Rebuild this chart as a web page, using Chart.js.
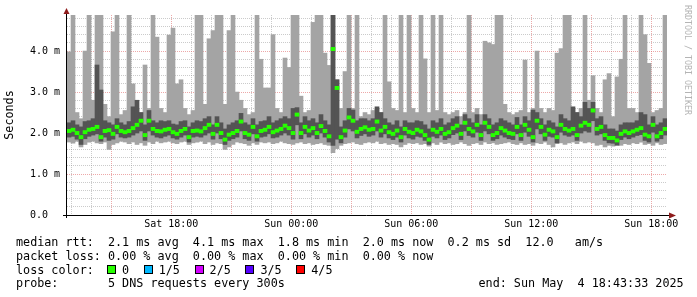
<!DOCTYPE html>
<html>
<head>
<meta charset="utf-8">
<title>SmokePing DNS latency</title>
<script src="https://cdn.jsdelivr.net/npm/chart.js@4.4.1/dist/chart.umd.min.js"></script>
<style>
  html, body { margin: 0; padding: 0; background: #fff; }
  #graph { display: block; }
</style>
</head>
<body>
<canvas id="graph" width="697" height="297"></canvas>
<script>
// time axis: hours, graph starts Sat 12:47 and spans 30 hours, one bar = 12 min
const START_HOUR = 12.785;
const SPAN_HOURS = 30;
const STEP_HOURS = 0.2;

const labelHours = [18, 24, 30, 36, 42];
const timeLabels = ["Sat 18:00", "Sun 00:00", "Sun 06:00", "Sun 12:00", "Sun 18:00"];
const yTickLabels = ["0.0", "1.0 m", "2.0 m", "3.0 m", "4.0 m"];

// smoke: outer band = fastest/slowest ping, inner band = 2nd/4th ping (ms)
const lightHi = [
  3.98, 5, 2.5, 2.35, 4.0, 5, 2.8, 5, 5, 2.7, 2.4, 4.47, 5, 2.45, 2.55, 5, 3.2, 2.6, 2.5, 3.66, 2.6, 5, 4.34, 2.6, 2.5,
  4.39, 4.56, 3.2, 3.3, 2.6, 2.45, 2.55, 5, 5, 2.7, 4.3, 4.5, 5, 5, 2.7, 4.5, 5, 3.0, 2.8, 2.6, 2.45, 2.5, 5, 3.8, 3.1,
  3.1, 4.4, 2.6, 2.5, 3.83, 3.6, 5, 5, 2.9, 2.5, 2.55, 4.7, 5, 5, 3.95, 3.65, 5, 3.3, 2.6, 3.5, 5, 2.6, 5, 2.4, 2.5,
  2.45, 2.55, 2.6, 2.5, 5, 3.25, 2.6, 2.55, 5, 2.5, 5, 2.6, 2.5, 5, 3.81, 2.5, 5, 2.55, 5, 2.5, 2.45, 2.5, 2.55, 2.4, 2.5,
  5, 2.5, 2.6, 2.45, 4.24, 4.2, 4.16, 5, 5, 2.7, 2.5, 2.45, 2.5, 2.55, 3.78, 2.5, 2.6, 4.0, 2.6, 2.5, 2.6, 2.55, 3.95, 4.06, 5,
  5, 2.6, 2.5, 2.6, 5, 2.8, 3.4, 2.6, 2.5, 3.3, 3.45, 2.4, 3.37, 3.8, 5, 2.6, 2.6, 2.5, 5, 4.4, 3.7, 2.5, 2.55, 2.6, 5
];
const lightLo = [
  1.78, 1.75, 1.8, 1.66, 1.72, 1.78, 1.8, 1.76, 1.74, 1.78, 1.6, 1.72, 1.76, 1.8, 1.78, 1.74, 1.78, 1.72, 1.76, 1.7, 1.78, 1.74, 1.8, 1.76, 1.78,
  1.8, 1.76, 1.74, 1.78, 1.8, 1.72, 1.76, 1.78, 1.8, 1.74, 1.78, 1.72, 1.76, 1.74, 1.6, 1.66, 1.72, 1.78, 1.76, 1.74, 1.7, 1.76, 1.72, 1.78, 1.76,
  1.78, 1.74, 1.76, 1.8, 1.76, 1.74, 1.72, 1.76, 1.78, 1.74, 1.76, 1.72, 1.74, 1.76, 1.72, 1.7, 1.52, 1.62, 1.7, 1.74, 1.76, 1.78, 1.74, 1.72, 1.76,
  1.78, 1.76, 1.8, 1.74, 1.76, 1.72, 1.74, 1.72, 1.66, 1.72, 1.76, 1.74, 1.76, 1.72, 1.74, 1.68, 1.76, 1.72, 1.78, 1.74, 1.76, 1.72, 1.74, 1.78, 1.74,
  1.7, 1.74, 1.76, 1.72, 1.78, 1.74, 1.76, 1.72, 1.74, 1.76, 1.78, 1.74, 1.72, 1.76, 1.72, 1.74, 1.7, 1.76, 1.74, 1.78, 1.72, 1.66, 1.74, 1.76, 1.72,
  1.76, 1.78, 1.74, 1.8, 1.76, 1.78, 1.76, 1.7, 1.72, 1.66, 1.7, 1.68, 1.72, 1.7, 1.74, 1.72, 1.76, 1.74, 1.78, 1.72, 1.74, 1.7, 1.76, 1.72, 1.74
];
const darkHi = [
  2.25, 2.3, 2.2, 2.15, 2.28, 2.3, 2.35, 3.66, 3.05, 2.3, 2.25, 2.2, 2.35, 2.25, 2.2, 2.28, 2.64, 2.8, 2.5, 2.2, 2.55, 2.3, 2.25, 2.3, 2.28,
  2.3, 2.22, 2.2, 2.28, 2.3, 2.15, 2.25, 2.3, 2.28, 2.35, 2.4, 2.2, 2.4, 2.25, 2.1, 2.2, 2.25, 2.3, 2.48, 2.25, 2.2, 2.35, 2.2, 2.28, 2.3,
  2.4, 2.25, 2.3, 2.35, 2.4, 2.35, 2.6, 2.62, 2.25, 2.4, 2.3, 2.35, 2.25, 2.45, 2.3, 2.2, 5, 3.3, 2.15, 2.3, 2.6, 2.56, 2.3, 2.35, 2.35,
  2.3, 2.35, 2.64, 2.5, 2.35, 2.25, 2.2, 2.3, 2.15, 2.3, 2.25, 2.25, 2.3, 2.28, 2.2, 2.1, 2.3, 2.25, 2.35, 2.2, 2.25, 2.35, 2.4, 2.2, 2.45,
  2.35, 2.25, 2.45, 2.2, 2.45, 2.35, 2.2, 2.25, 2.35, 2.3, 2.25, 2.2, 2.38, 2.2, 2.4, 2.3, 2.56, 2.5, 2.35, 2.2, 2.3, 2.25, 2.15, 2.45, 2.35,
  2.3, 2.64, 2.5, 2.4, 2.75, 2.6, 2.75, 2.35, 2.4, 2.2, 2.1, 2.1, 2.05, 2.2, 2.25, 2.25, 2.25, 2.3, 2.5, 2.45, 2.2, 2.4, 2.2, 2.25, 2.35
];
const darkLo = [
  1.9, 1.92, 1.85, 1.72, 1.86, 1.92, 1.95, 1.98, 1.8, 1.9, 1.82, 1.85, 1.98, 1.9, 1.88, 1.9, 1.95, 2.0, 2.05, 1.82, 2.05, 1.95, 1.9, 1.88, 1.92,
  1.95, 1.88, 1.85, 1.9, 1.95, 1.78, 1.9, 1.92, 1.9, 1.95, 2.0, 1.85, 2.0, 1.86, 1.72, 1.82, 1.86, 1.9, 2.05, 1.86, 1.82, 1.98, 1.8, 1.9, 1.92,
  1.98, 1.88, 1.9, 1.95, 2.0, 1.95, 1.85, 2.2, 1.86, 1.98, 1.9, 1.95, 1.86, 2.0, 1.9, 1.78, 1.7, 1.85, 1.76, 1.9, 2.1, 2.05, 1.88, 1.94, 1.98,
  1.92, 1.95, 2.05, 1.9, 1.98, 1.88, 1.84, 1.9, 1.78, 1.95, 1.88, 1.85, 1.92, 1.9, 1.82, 1.72, 1.92, 1.88, 1.95, 1.84, 1.88, 1.96, 2.0, 1.84, 2.05,
  1.94, 1.9, 2.02, 1.82, 2.05, 1.98, 1.82, 1.86, 1.95, 1.9, 1.86, 1.84, 1.98, 1.82, 2.02, 1.92, 1.78, 2.1, 1.98, 1.82, 1.92, 1.9, 1.76, 2.02, 1.95,
  1.92, 1.95, 1.82, 2.0, 2.05, 2.02, 2.3, 1.95, 1.98, 1.82, 1.76, 1.75, 1.7, 1.84, 1.9, 1.86, 1.9, 1.94, 1.96, 1.82, 1.78, 2.02, 1.8, 1.86, 1.95
];
const median = [
  2.05, 2.08, 2.0, 1.9, 2.02, 2.08, 2.1, 2.15, 1.9, 2.05, 2.07, 1.98, 2.15, 2.05, 2.02, 2.05, 2.12, 2.2, 2.3, 1.95, 2.3, 2.1, 2.05, 2.04, 2.08,
  2.1, 2.02, 1.98, 2.05, 2.1, 1.9, 2.05, 2.06, 2.04, 2.12, 2.2, 1.98, 2.2, 2.0, 1.84, 1.96, 2.0, 2.05, 2.28, 2.0, 1.96, 2.15, 1.92, 2.05, 2.08,
  2.15, 2.02, 2.06, 2.1, 2.18, 2.12, 2.0, 2.45, 2.0, 2.15, 2.06, 2.12, 2.0, 2.17, 2.05, 1.92, 4.05, 3.1, 1.9, 2.06, 2.38, 2.3, 2.03, 2.1, 2.14,
  2.08, 2.1, 2.28, 2.06, 2.15, 2.02, 1.98, 2.06, 1.9, 2.1, 2.03, 2.0, 2.08, 2.04, 1.95, 1.84, 2.08, 2.03, 2.1, 1.98, 2.02, 2.12, 2.18, 1.98, 2.25,
  2.1, 2.04, 2.2, 1.95, 2.25, 2.15, 1.95, 2.0, 2.12, 2.06, 2.0, 1.98, 2.15, 1.95, 2.2, 2.08, 1.9, 2.3, 2.15, 1.96, 2.08, 2.04, 1.9, 2.2, 2.1,
  2.06, 2.1, 1.95, 2.18, 2.25, 2.2, 2.55, 2.1, 2.15, 1.95, 1.88, 1.88, 1.82, 1.98, 2.04, 2.0, 2.04, 2.08, 2.12, 1.96, 1.92, 2.2, 1.92, 2.0, 2.1
];

// legend texts
const rttLine = "median rtt:  2.1 ms avg  4.1 ms max  1.8 ms min  2.0 ms now  0.2 ms sd  12.0   am/s";
const lossLine = "packet loss: 0.00 % avg  0.00 % max  0.00 % min  0.00 % now";
const lossLabels = ["0", "1/5", "2/5", "3/5", "4/5"];
const lossColors = ["#26ff00", "#00b8ff", "#d200ff", "#5500ff", "#ff0000"];
const probeLine = "probe:       5 DNS requests every 300s";
const endLine = "end: Sun May  4 18:43:33 2025";

const MONO = "'DejaVu Sans Mono', monospace";
const MEDIAN_HALF = 0.04;
const Y_STEP = 0.2;
const Y_MAX = 4.88;
const GRID_MINOR = "rgba(140,140,140,0.45)";
const GRID_MAJOR = "rgba(225,110,110,0.6)";

const xs = median.map((_, i) => (i + 0.5) * STEP_HOURS);
const band = (lo, hi) => xs.map((x, i) => ({ x: x, y: [lo[i], hi[i]] }));
const isWhole = v => Math.abs(v - Math.round(v)) < 1e-6;

const rrdFrame = {
    id: "rrdFrame",
    afterDatasetsDraw(chart) {
        const { ctx, chartArea: a } = chart;
        const y0 = Math.round(chart.scales.y.getPixelForValue(0));
        ctx.save();
        ctx.strokeStyle = "#000";
        ctx.lineWidth = 1;
        ctx.beginPath();
        ctx.moveTo(a.left - 4, y0 + 0.5);
        ctx.lineTo(a.right + 3, y0 + 0.5);
        ctx.moveTo(a.left - 0.5, y0 + 3);
        ctx.lineTo(a.left - 0.5, a.top - 2);
        ctx.stroke();

        // arrow heads
        ctx.fillStyle = "#8e1b1b";
        ctx.beginPath();
        ctx.moveTo(a.left - 0.5, a.top - 7);
        ctx.lineTo(a.left - 3.5, a.top - 1);
        ctx.lineTo(a.left + 2.5, a.top - 1);
        ctx.closePath();
        ctx.fill();
        ctx.beginPath();
        ctx.moveTo(a.right + 9, y0 + 0.5);
        ctx.lineTo(a.right + 2, y0 - 2.5);
        ctx.lineTo(a.right + 2, y0 + 3.5);
        ctx.closePath();
        ctx.fill();
        ctx.restore();
    },
    afterDraw(chart) {
        const ctx = chart.ctx;
        ctx.save();

        // watermark on the right edge
        ctx.save();
        ctx.translate(687.5, 5);
        ctx.rotate(Math.PI / 2);
        ctx.font = "8.3px " + MONO;
        ctx.fillStyle = "#b4b4b4";
        ctx.textBaseline = "middle";
        ctx.textAlign = "left";
        ctx.fillText("RRDTOOL / TOBI OETIKER", 0, 0);
        ctx.restore();

        // legend block under the graph
        ctx.font = "11.75px " + MONO;
        ctx.fillStyle = "#000";
        ctx.textBaseline = "alphabetic";
        ctx.textAlign = "left";
        const left = 16;
        const cw = ctx.measureText("0").width;
        ctx.fillText(rttLine, left, 245.5);
        ctx.fillText(lossLine, left, 259.5);
        ctx.fillText("loss color:", left, 273.5);
        ctx.fillText(probeLine, left, 287.3);
        ctx.fillText(endLine, 478.5, 287.3);

        let x = left + 13 * cw - 1;
        lossLabels.forEach((lab, i) => {
            ctx.fillStyle = lossColors[i];
            ctx.fillRect(Math.round(x), 265, 9, 9);
            ctx.strokeStyle = "#000";
            ctx.lineWidth = 1;
            ctx.strokeRect(Math.round(x) + 0.5, 265.5, 8, 8);
            ctx.fillStyle = "#000";
            ctx.fillText(lab, x + 15, 273.5);
            x = x + 15 + (lab.length + 2) * cw + 0.5;
        });
        ctx.restore();
    }
};

Chart.defaults.font.family = MONO;
Chart.defaults.color = "#000";

new Chart(document.getElementById("graph"), {
    type: "bar",
    data: {
        datasets: [
            {
                label: "median",
                data: xs.map((x, i) => ({ x: x, y: [median[i] - MEDIAN_HALF, median[i] + MEDIAN_HALF] })),
                backgroundColor: lossColors[0]
            },
            {
                label: "2nd-4th ping",
                data: band(darkLo, darkHi),
                backgroundColor: "#545454"
            },
            {
                label: "min-max ping",
                data: band(lightLo, lightHi),
                backgroundColor: "#a4a4a4"
            }
        ]
    },
    options: {
        responsive: false,
        devicePixelRatio: 1,
        animation: false,
        events: [],
        layout: { padding: { left: 0, right: 30, top: 15, bottom: 0 } },
        datasets: {
            bar: { grouped: false, barPercentage: 1, categoryPercentage: 1, borderWidth: 0 }
        },
        plugins: {
            legend: { display: false },
            tooltip: { enabled: false }
        },
        scales: {
            x: {
                type: "linear",
                min: 0,
                max: SPAN_HOURS,
                offset: false,
                afterFit: s => { s.height = 82; },
                afterBuildTicks: s => {
                    const t = [];
                    for (let h = Math.ceil(START_HOUR); h < START_HOUR + SPAN_HOURS; h++) {
                        t.push({ value: h - START_HOUR });
                    }
                    s.ticks = t;
                },
                ticks: {
                    autoSkip: false,
                    maxRotation: 0,
                    minRotation: 0,
                    padding: 3,
                    font: { size: 10 },
                    callback: v => {
                        const k = labelHours.indexOf(Math.round(v + START_HOUR));
                        return k >= 0 ? timeLabels[k] : "";
                    }
                },
                grid: {
                    offset: false,
                    drawTicks: false,
                    color: c => (c.tick && Math.round(c.tick.value + START_HOUR) % 3 === 0) ? GRID_MAJOR : GRID_MINOR
                },
                border: { display: false, dash: [1, 1] }
            },
            y: {
                min: 0,
                max: Y_MAX,
                afterFit: s => { s.width = 67; },
                afterBuildTicks: s => {
                    const t = [];
                    for (let k = 0; k * Y_STEP <= Y_MAX; k++) {
                        t.push({ value: Math.round(k * Y_STEP * 10) / 10 });
                    }
                    s.ticks = t;
                },
                ticks: {
                    autoSkip: false,
                    padding: 3,
                    font: { size: 10 },
                    callback: v => isWhole(v) ? yTickLabels[Math.round(v)].padEnd(5, " ") : ""
                },
                grid: {
                    tickLength: 4,
                    tickColor: "rgba(0,0,0,0)",
                    color: c => {
                        if (!c.tick) return GRID_MINOR;
                        const v = c.tick.value;
                        if (v === 0) return "rgba(0,0,0,0)";
                        return isWhole(v) ? GRID_MAJOR : GRID_MINOR;
                    }
                },
                border: { display: false, dash: [1, 1] },
                title: {
                    display: true,
                    text: "Seconds",
                    font: { size: 11.75 },
                    padding: { top: 3, bottom: 0 }
                }
            }
        }
    },
    plugins: [rrdFrame]
});
</script>
</body>
</html>
